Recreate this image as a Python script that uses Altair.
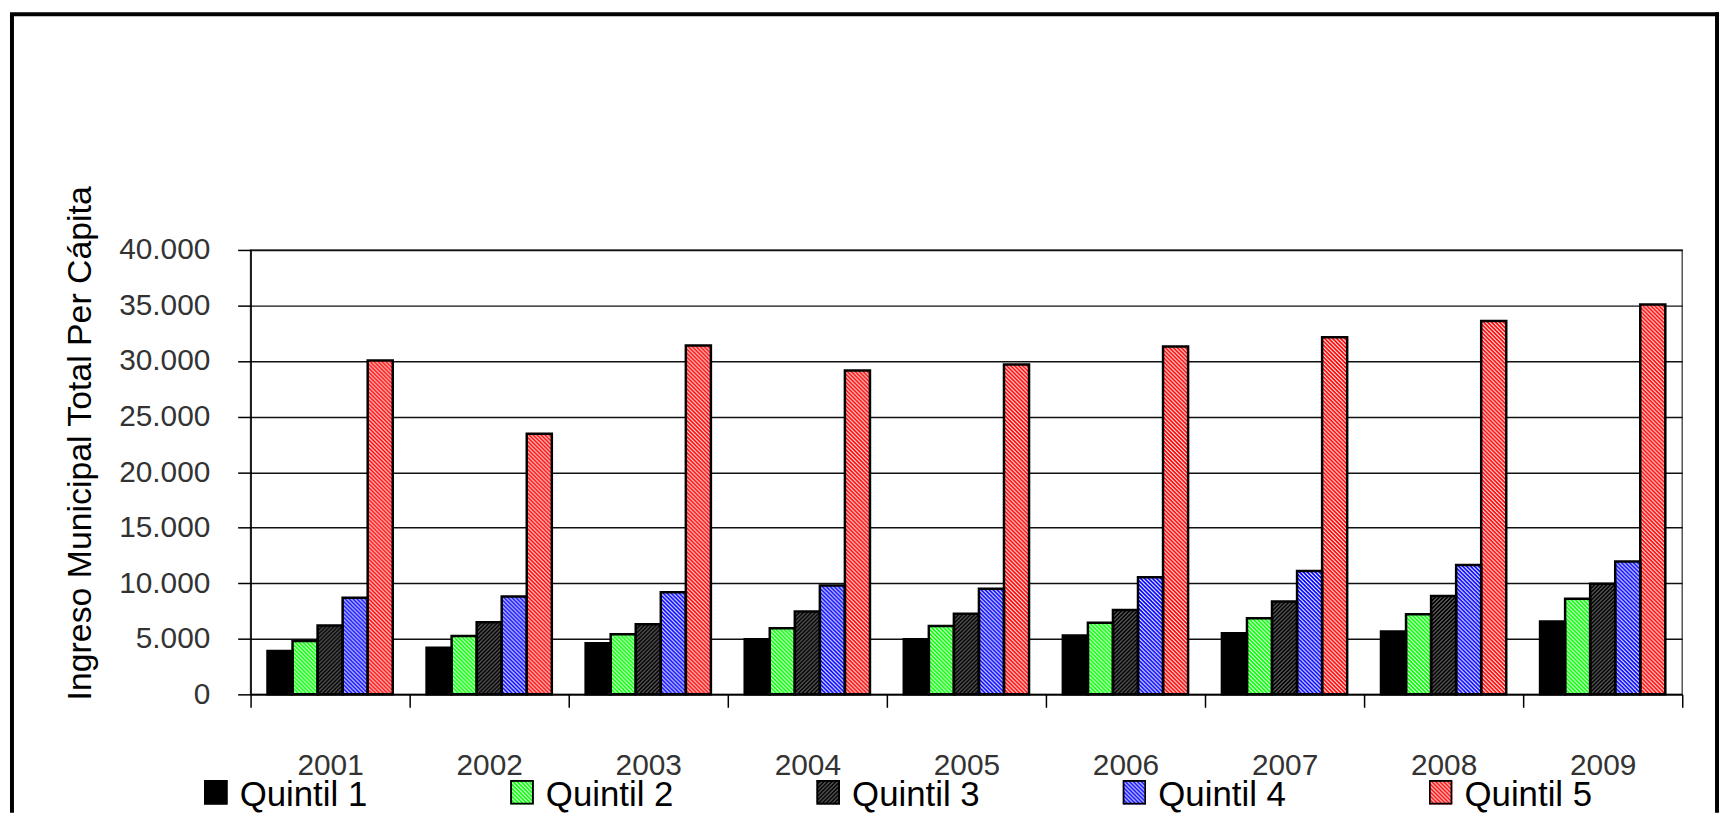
import altair as alt
import pandas as pd
from urllib.parse import quote

# ---------------- data ----------------
years = ["2001", "2002", "2003", "2004", "2005", "2006", "2007", "2008", "2009"]
series = ["Quintil 1", "Quintil 2", "Quintil 3", "Quintil 4", "Quintil 5"]
quintil_1 = [3900, 4200, 4600, 4950, 4950, 5300, 5500, 5650, 6550]
quintil_2 = [4800, 5250, 5400, 5950, 6150, 6450, 6850, 7200, 8600]
quintil_3 = [6200, 6500, 6300, 7450, 7250, 7600, 8350, 8850, 9950]
quintil_4 = [8700, 8800, 9200, 9800, 9500, 10550, 11100, 11650, 11950]
quintil_5 = [30050, 23450, 31400, 29150, 29700, 31300, 32150, 33600, 35100]
y_ticks = [0, 5000, 10000, 15000, 20000, 25000, 30000, 35000, 40000]
y_title = "Ingreso Municipal Total Per Cápita"

values_by_series = dict(zip(series, [quintil_1, quintil_2, quintil_3, quintil_4, quintil_5]))

# ---------------- hatch patterns (Excel-like fills) ----------------
def stripe_path(kind, w):
    if kind == "none":
        return ""
    pts1 = [(0, 0), (w, 0), (4, 4 - w), (4, 4)]
    pts2 = [(0, 4 - w), (w, 4), (0, 4)]
    if kind == "fwd":
        pts1 = [(4 - x, y) for x, y in pts1]
        pts2 = [(4 - x, y) for x, y in pts2]
    def poly(p):
        return "M" + "L".join(f"{x:g},{y:g}" for x, y in p) + "Z"
    return poly(pts1) + poly(pts2)


def pattern_url(bg, fg, kind, w, border=None):
    path = stripe_path(kind, w)
    fg_path = f"<path d='{path}' fill='{fg}'/>" if path else ""
    brd = ""
    if border:
        bw, bh = border
        brd = (f"<rect x='1' y='1' width='{bw - 2}' height='{bh - 2}' fill='none' "
               f"stroke='black' stroke-width='2'/>")
    svg = ("<svg xmlns='http://www.w3.org/2000/svg' width='100%' height='100%'>"
           "<defs><pattern id='p' width='4' height='4' patternUnits='userSpaceOnUse'>"
           f"<rect width='4' height='4' fill='{bg}'/>{fg_path}</pattern></defs>"
           "<rect width='100%' height='100%' fill='url(#p)'/>" + brd + "</svg>")
    return "data:image/svg+xml;charset=utf-8," + quote(svg)


fills = {
    "Quintil 1": ("#000000", "#000000", "none", 0),
    "Quintil 2": ("#ffffff", "#00ff00", "back", 2.5),
    "Quintil 3": ("#000000", "#a8a8a8", "fwd", 1.0),
    "Quintil 4": ("#ffffff", "#0000ff", "back", 2.4),
    "Quintil 5": ("#ffffff", "#ff0000", "back", 2.5),
}
bar_url = {s: pattern_url(*fills[s]) for s in series}
legend_url = {s: pattern_url(*fills[s], border=(24, 25)) for s in series}

rows = []
for s in series:
    for yr, v in zip(years, values_by_series[s]):
        rows.append({"year": yr, "serie": s, "value": v, "url": bar_url[s]})
df = pd.DataFrame(rows)
legend_df = pd.DataFrame({"serie": series, "url": [legend_url[s] for s in series]})
frame_df = pd.DataFrame({"k": [0]})

FONT = "Liberation Sans"

x_enc = alt.X(
    "year:N",
    sort=years,
    scale=alt.Scale(paddingInner=0, paddingOuter=0),
    axis=alt.Axis(
        title=None, labelAngle=0, tickBand="extent", tickSize=13, tickWidth=1.5,
        tickColor="#000", domainColor="#000", domainWidth=1.5,
        labelPadding=44, labelFontSize=30, labelColor="#333", labelFont=FONT,
        grid=False,
    ),
)
xoff_enc = alt.XOffset("serie:N", sort=series,
                       scale=alt.Scale(paddingInner=0, paddingOuter=0.675))
y_enc = alt.Y(
    "value:Q",
    stack=None,
    scale=alt.Scale(domain=[0, 40000], nice=False),
    axis=alt.Axis(
        values=y_ticks,
        labelExpr="replace(format(datum.value, ','), ',', '.')",
        labelFontSize=30, labelColor="#333", labelFont=FONT, labelPadding=28,
        tickSize=13, tickWidth=1.5, tickColor="#000",
        domainColor="#000", domainWidth=1.5,
        grid=True, gridColor="#111", gridWidth=1.5,
        title=y_title, titleFont=FONT, titleFontSize=34, titleFontWeight="normal",
        titleColor="#000", titleX=-154, titleY=194,
    ),
)

base = alt.Chart(df)
hatch = base.mark_image(aspect=False).encode(
    x=x_enc, xOffset=xoff_enc, y=y_enc, y2=alt.datum(0), url="url:N"
)
outline = base.mark_bar(fillOpacity=0, stroke="#000", strokeWidth=2.5).encode(
    x=alt.X("year:N", sort=years), xOffset=alt.XOffset("serie:N", sort=series),
    y=alt.Y("value:Q", stack=None)
)
bars = alt.layer(hatch, outline)

leg_x = alt.X("serie:N", sort=series, axis=None,
              scale=alt.Scale(type="point", domain=series, range=[-35, 1197], padding=0))
leg_sym = alt.Chart(legend_df).mark_image(aspect=False, width=24, height=25).encode(
    x=leg_x, y=alt.value(545.5), url="url:N"
)
leg_txt = alt.Chart(legend_df).mark_text(
    align="left", baseline="alphabetic", dx=24, fontSize=35, font=FONT, color="#000"
).encode(x=leg_x, y=alt.value(559), text="serie:N")
legend = alt.layer(leg_sym, leg_txt)

fr = alt.Chart(frame_df)
frame_left = fr.mark_rule(color="#000", strokeWidth=4).encode(
    x=alt.value(-240), y=alt.value(-237), y2=alt.value(566))
frame_top = fr.mark_rule(color="#000", strokeWidth=4).encode(
    x=alt.value(-242), x2=alt.value(1477), y=alt.value(-237))
frame_right = fr.mark_rule(color="#000", strokeWidth=4).encode(
    x=alt.value(1475), y=alt.value(-239), y2=alt.value(566))
frame = alt.layer(frame_left, frame_top, frame_right)

chart = (
    alt.layer(bars, legend, frame)
    .resolve_scale(x="independent")
    .properties(width=1440, height=447, padding=0, background="#ffffff")
    .configure(font=FONT)
    .configure_view(stroke="#555", strokeWidth=1.5)
)

chart.save("out.html", embed_options={"renderer": "svg", "actions": False})
